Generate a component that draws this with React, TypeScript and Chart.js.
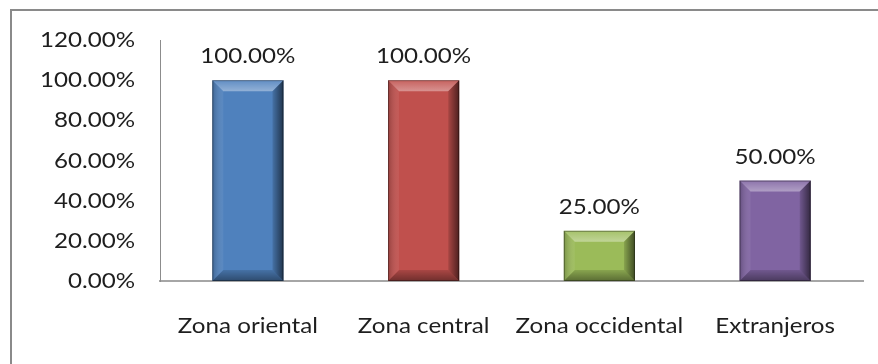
import React, { useEffect, useRef } from "react";
import { Chart, registerables } from "chart.js";

Chart.register(...registerables);

const categories = ["Zona oriental", "Zona central", "Zona occidental", "Extranjeros"];
const values = [100, 100, 25, 50];
const barColors = ["#4F81BD", "#C0504D", "#9BBB59", "#8064A2"];
const yTicks = [0, 20, 40, 60, 80, 100, 120];

const FONT = "21px Lato, 'Open Sans', sans-serif";
const TEXT_COLOR = "#1e1e1e";
// glyphs are drawn slightly wide, like the original report's typeface
const STRETCH = 1.15;

const fmt = (v: number) => v.toFixed(2) + "%";

function wideText(ctx: any, text: string, x: number, y: number, align: "left" | "center" | "right") {
  ctx.save();
  ctx.font = FONT;
  ctx.fillStyle = TEXT_COLOR;
  ctx.textBaseline = "alphabetic";
  ctx.textAlign = "left";
  const w = ctx.measureText(text).width * STRETCH;
  let x0 = x;
  if (align === "center") x0 = x - w / 2;
  else if (align === "right") x0 = x - w;
  ctx.translate(x0, y);
  ctx.scale(STRETCH, 1);
  ctx.fillText(text, 0, 0);
  ctx.restore();
}

// Frame lines along the top and left edges of the picture
const framePlugin = {
  id: "frame",
  beforeDraw(chart: any) {
    const ctx = chart.ctx;
    ctx.save();
    ctx.fillStyle = "#ffffff";
    ctx.fillRect(0, 0, chart.width, chart.height);
    ctx.strokeStyle = "#8a8a8a";
    ctx.lineWidth = 2;
    ctx.beginPath();
    ctx.moveTo(11, chart.height);
    ctx.lineTo(11, 10);
    ctx.lineTo(chart.width, 10);
    ctx.stroke();
    ctx.restore();
  },
};

// Axis labels, placed with the chart's own scales
const axisLabelPlugin = {
  id: "axisLabels",
  afterDraw(chart: any) {
    const ctx = chart.ctx;
    const ys = chart.scales.y;
    const xs = chart.scales.x;
    ys.ticks.forEach((t: any) => {
      const py = ys.getPixelForValue(t.value);
      wideText(ctx, fmt(t.value), ys.right - 25, py + 7, "right");
    });
    xs.ticks.forEach((t: any, i: number) => {
      const px = xs.getPixelForTick(i);
      wideText(ctx, String(xs.getLabelForValue(t.value)), px, xs.top + 52, "center");
    });
  },
};

// Beveled look on each bar plus the value label above it
const bevelPlugin = {
  id: "bevel",
  afterDatasetsDraw(chart: any) {
    const ctx = chart.ctx;
    const meta = chart.getDatasetMeta(0);
    meta.data.forEach((bar: any, i: number) => {
      const l = bar.x - bar.width / 2;
      const r = bar.x + bar.width / 2;
      const t = bar.y;
      const bot = bar.base;
      const b = Math.min(11, (bot - t) / 2.5);
      ctx.save();

      // top face (light)
      let g = ctx.createLinearGradient(0, t, 0, t + b);
      g.addColorStop(0, "rgba(255,255,255,0.10)");
      g.addColorStop(1, "rgba(255,255,255,0.38)");
      ctx.fillStyle = g;
      ctx.beginPath();
      ctx.moveTo(l, t);
      ctx.lineTo(r, t);
      ctx.lineTo(r - b, t + b);
      ctx.lineTo(l + b, t + b);
      ctx.closePath();
      ctx.fill();

      // left face
      g = ctx.createLinearGradient(l, 0, l + b, 0);
      g.addColorStop(0, "rgba(0,0,0,0.22)");
      g.addColorStop(1, "rgba(255,255,255,0.06)");
      ctx.fillStyle = g;
      ctx.beginPath();
      ctx.moveTo(l, t);
      ctx.lineTo(l + b, t + b);
      ctx.lineTo(l + b, bot - b);
      ctx.lineTo(l, bot);
      ctx.closePath();
      ctx.fill();

      // right face (dark)
      g = ctx.createLinearGradient(r - b, 0, r, 0);
      g.addColorStop(0, "rgba(0,0,0,0.12)");
      g.addColorStop(1, "rgba(0,0,0,0.6)");
      ctx.fillStyle = g;
      ctx.beginPath();
      ctx.moveTo(r, t);
      ctx.lineTo(r, bot);
      ctx.lineTo(r - b, bot - b);
      ctx.lineTo(r - b, t + b);
      ctx.closePath();
      ctx.fill();

      // bottom face
      g = ctx.createLinearGradient(0, bot - b, 0, bot);
      g.addColorStop(0, "rgba(0,0,0,0.12)");
      g.addColorStop(1, "rgba(0,0,0,0.42)");
      ctx.fillStyle = g;
      ctx.beginPath();
      ctx.moveTo(l, bot);
      ctx.lineTo(r, bot);
      ctx.lineTo(r - b, bot - b);
      ctx.lineTo(l + b, bot - b);
      ctx.closePath();
      ctx.fill();

      // thin dark rim
      ctx.strokeStyle = "rgba(0,0,0,0.35)";
      ctx.lineWidth = 1;
      ctx.strokeRect(l + 0.5, t + 0.5, r - l - 1, bot - t - 1);
      ctx.restore();

      // value label
      wideText(ctx, fmt(values[i]), bar.x, t - 17, "center");
    });
  },
};

export default function App() {
  const ref = useRef<HTMLCanvasElement>(null);

  useEffect(() => {
    if (!ref.current) return;
    const chart = new Chart(ref.current, {
      type: "bar",
      data: {
        labels: categories,
        datasets: [
          {
            data: values,
            backgroundColor: barColors,
            borderWidth: 0,
            categoryPercentage: 1,
            barPercentage: 0.405,
          },
        ],
      },
      options: {
        animation: false,
        responsive: false,
        maintainAspectRatio: false,
        layout: { padding: { top: 40, right: 15, bottom: 0, left: 0 } },
        plugins: {
          legend: { display: false },
          tooltip: { enabled: false },
        },
        scales: {
          x: {
            grid: { display: false, drawTicks: false },
            border: { display: true, color: "#a6a6a6", width: 2 },
            ticks: { display: false },
            afterFit(scale: any) {
              scale.height = 83;
            },
          },
          y: {
            min: 0,
            max: 120,
            grid: { display: false, drawTicks: false },
            border: { display: true, color: "#8c8c8c", width: 1 },
            afterBuildTicks(scale: any) {
              scale.ticks = yTicks.map((v) => ({ value: v }));
            },
            ticks: { display: false },
            afterFit(scale: any) {
              scale.width = 160;
            },
          },
        },
      },
      plugins: [framePlugin, bevelPlugin, axisLabelPlugin],
    });
    return () => chart.destroy();
  }, []);

  return (
    <div style={{ position: "fixed", left: 0, top: 0, width: 878, height: 364 }}>
      <canvas ref={ref} width={878} height={364} style={{ display: "block" }} />
    </div>
  );
}
